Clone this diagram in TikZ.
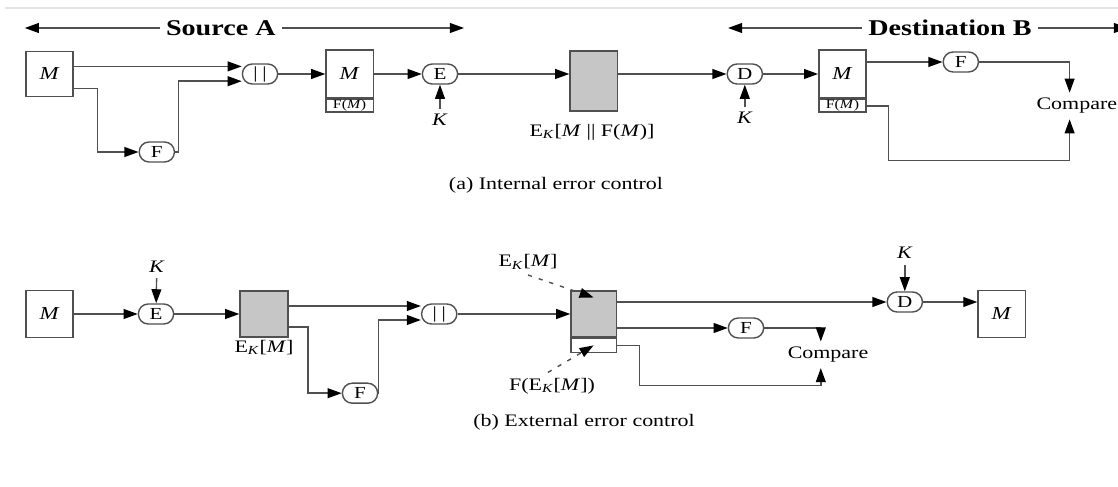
\documentclass[tikz,border=0pt]{standalone}
\usepackage{fontspec}
\setmainfont[FakeStretch=1.25]{Liberation Serif}
\usetikzlibrary{arrows.meta, positioning}
\definecolor{wirec}{HTML}{505050}
\definecolor{shade}{HTML}{C6C6C6}
\definecolor{rulec}{HTML}{E4E4E4}

\begin{document}
\begin{tikzpicture}[>={Triangle[length=10pt, width=7pt]}, line width=1pt,
  wire/.style={draw=wirec, line width=1pt, arrows={->[black]}},
  blk/.style={draw=wirec, line width=1pt, minimum width=1.18cm, minimum height=1.18cm, inner sep=0pt, font=\fontsize{13}{13}\selectfont},
  pill/.style={draw=wirec, line width=1pt, rounded corners=7pt, minimum width=0.88cm, minimum height=0.5cm, inner sep=0pt, font=\fontsize{12}{12}\selectfont},
  tiny/.style={font=\fontsize{9}{9}\selectfont},
  lbl/.style={inner sep=1.5pt, inner ysep=3.5pt, font=\fontsize{12.5}{14}\selectfont},
  span/.style={inner sep=4pt, font=\fontsize{16}{16}\selectfont\bfseries},
  capt/.style={font=\fontsize{12.5}{14}\selectfont}]

% Frame
\useasboundingbox (0,0) rectangle (27.95,12.15);
\draw[rulec, line width=1.5pt] (0.12,11.95) -- (27.95,11.95);

% Source A
\node[span] (srcA) at (5.52,11.45) {Source A};
\coordinate (srcL) at (0.62,11.45);
\coordinate (srcR) at (11.6,11.45);
\draw[wire] (srcA) -- (srcL);
\draw[wire] (srcA) -- (srcR);

% Destination B
\node[span] (dstB) at (23.75,11.45) {Destination B};
\coordinate (dstL) at (18.2,11.45);
\coordinate (dstR) at (28.2,11.45);
\draw[wire] (dstB) -- (dstL);
\draw[wire] (dstB) -- (dstR);

% (a) message and F
\node[blk, minimum height=1.12cm] (m1) at (1.24,10.3) {\textit{M}};
\node[pill] (f1) at (3.92,8.35) {F};
\node[pill] (cat1) at (6.5,10.3) {|\;|};
\draw[wire] ([yshift=0.19cm]m1.east) -- ([yshift=0.19cm]m1.east -| cat1.west);
\draw[wire] ([yshift=-0.36cm]m1.east) -- ++(0.59,0) |- (f1);
\draw[wire] (f1) -- ++(0.54,0) |- ([yshift=-0.18cm]cat1.west);

% (a) M || F(M)
\node[blk, minimum height=1.2cm] (m2) at (8.74,10.3) {\textit{M}};
\node[blk, tiny, minimum height=0.32cm, below=0pt of m2] (m2f) {F(\textit{M})};
\draw[wire] (cat1) -- (m2);

% (a) encrypt
\node[pill] (e1) at (11.0,10.3) {E};
\node[lbl] (k1) at (11.0,9.15) {\textit{K}};
\draw[wire] (m2) -- (e1);
\draw[wire] (k1) -- (e1);

% (a) ciphertext
\node[blk, fill=shade, minimum height=1.5cm] (g1) at (14.84,10.12) {};
\node[lbl] (ek1) at (14.8,8.85) {E\textsubscript{\textit{K}}[\textit{M} || F(\textit{M})]};
\draw[wire] (e1) -- (e1 -| g1.west);

% (a) decrypt
\node[pill] (d1) at (18.62,10.3) {D};
\node[lbl] (k2) at (18.62,9.2) {\textit{K}};
\draw[wire] (g1.east |- d1) -- (d1);
\draw[wire] (k2) -- (d1);

% (a) check at B
\node[blk, minimum height=1.2cm] (m3) at (21.06,10.3) {\textit{M}};
\node[blk, tiny, minimum height=0.32cm, below=0pt of m3] (m3f) {F(\textit{M})};
\draw[wire] (d1) -- (m3);
\node[pill] (f2) at (24.02,10.6) {F};
\node[lbl] (cmp1) at (26.92,9.5) {Compare};
\draw[wire] (m3.east |- f2) -- (f2);
\draw[wire] (f2) -| ([xshift=-0.18cm]cmp1.north);
\draw[wire] (m3f.east) -- ++(0.55,0) -- ++(0,-1.37) -| ([xshift=-0.18cm]cmp1.south);

\node[capt] (capA) at (13.9,7.52) {(a) Internal error control};

% (b) encrypt first
\node[blk] (m4) at (1.24,4.3) {\textit{M}};
\node[pill] (e2) at (3.9,4.3) {E};
\node[lbl] (k3) at (3.92,5.48) {\textit{K}};
\draw[wire] (m4) -- (e2);
\draw[wire] (k3) -- (e2);
\node[blk, fill=shade, minimum width=1.2cm, minimum height=1.15cm] (g2) at (6.6,4.3) {};
\node[lbl, inner ysep=1pt, below=0pt of g2] (ek2) {E\textsubscript{\textit{K}}[\textit{M}]};
\draw[wire] (e2) -- (g2);

% (b) F over ciphertext
\node[pill] (f3) at (9.0,2.32) {F};
\node[pill] (cat2) at (10.98,4.3) {|\;|};
\draw[wire] ([yshift=0.2cm]g2.east) -- ([yshift=0.2cm]g2.east -| cat2.west);
\draw[wire] ([yshift=-0.32cm]g2.east) -- ++(0.48,0) |- (f3);
\draw[wire] (f3) -- ++(0.46,0) |- ([yshift=-0.15cm]cat2.west);

% (b) sent block
\node[blk, fill=shade, minimum width=1.13cm, minimum height=1.15cm] (b2) at (14.84,4.3) {};
\node[blk, minimum width=1.13cm, minimum height=0.35cm, below=0pt of b2] (b2f) {};
\draw[wire] (cat2) -- (b2);
\node[lbl] (ekm) at (13.2,5.6) {E\textsubscript{\textit{K}}[\textit{M}]};
\node[lbl] (fek) at (13.8,2.5) {F(E\textsubscript{\textit{K}}[\textit{M}])};
\draw[wire, dash pattern=on 3pt off 5pt] (ekm.south) -- ([yshift=-0.18cm]b2.north);
\draw[wire, dash pattern=on 3pt off 5pt] ([xshift=-0.1cm]fek.north) -- (b2f.center);

% (b) check and decrypt at B
\node[pill] (d2) at (22.62,4.6) {D};
\node[lbl] (k4) at (22.62,5.82) {\textit{K}};
\node[blk] (m5) at (25.04,4.3) {\textit{M}};
\draw[wire] ([yshift=0.3cm]b2.east) -- (d2);
\draw[wire] (k4) -- (d2);
\draw[wire] (d2) -- (d2 -| m5.west);
\node[pill] (f4) at (18.65,3.95) {F};
\node[lbl] (cmp2) at (20.7,3.28) {Compare};
\draw[wire] (b2.east |- f4) -- (f4);
\draw[wire] (f4) -| ([xshift=-0.18cm]cmp2.north);
\draw[wire] (b2f.east) -- ++(0.57,0) -- ++(0,-1.0) -| ([xshift=-0.18cm]cmp2.south);

\node[capt] (capB) at (14.6,1.6) {(b) External error control};

\end{tikzpicture}
\end{document}
